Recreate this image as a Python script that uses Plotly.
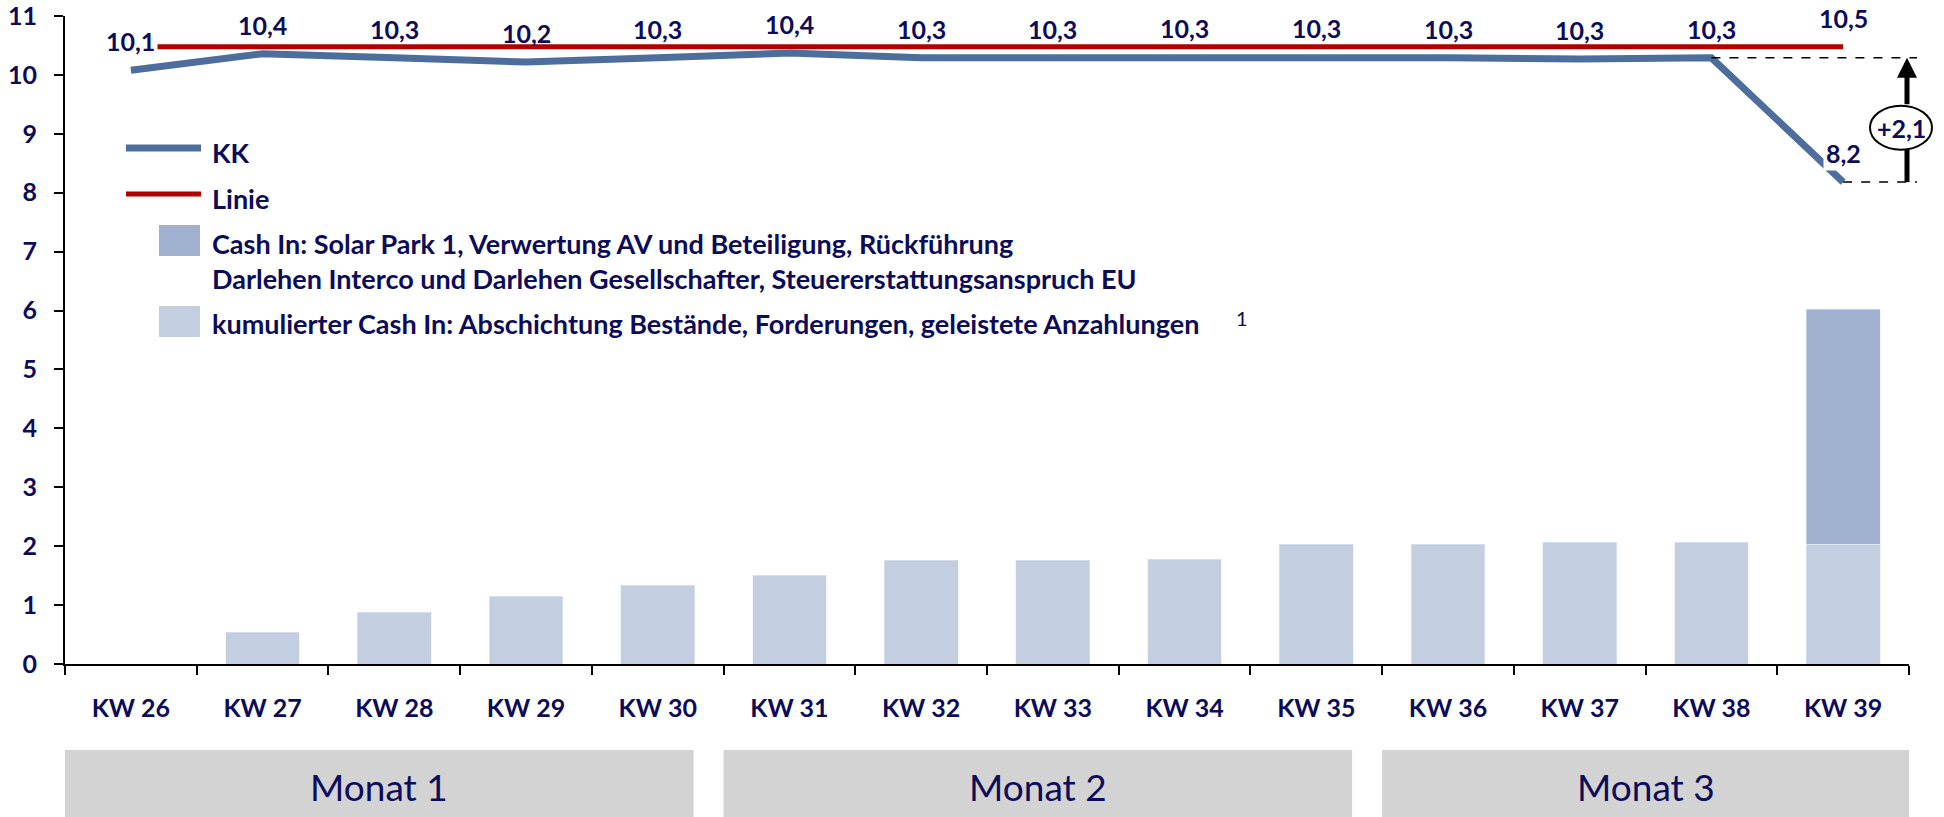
import plotly.graph_objects as go

# ---------------- data ----------------
categories = ["KW 26", "KW 27", "KW 28", "KW 29", "KW 30", "KW 31", "KW 32",
              "KW 33", "KW 34", "KW 35", "KW 36", "KW 37", "KW 38", "KW 39"]
kk = [10.08, 10.36, 10.29, 10.22, 10.29, 10.37, 10.29,
      10.29, 10.31, 10.31, 10.29, 10.27, 10.29, 8.18]
linie = [10.48, 10.48, 10.48, 10.48, 10.48, 10.48, 10.48,
         10.48, 10.48, 10.48, 10.48, 10.48, 10.48, 10.48]
cash_kum = [0.0, 0.54, 0.88, 1.15, 1.34, 1.51, 1.76,
            1.76, 1.78, 2.03, 2.03, 2.07, 2.07, 2.03]
cash_sonder = [None, None, None, None, None, None, None,
               None, None, None, None, None, None, 3.99]
months = ["Monat 1", "Monat 2", "Monat 3"]
month_weeks = [5, 5, 4]
series_names = ["KK", "Linie",
                "Cash In: Solar Park 1, Verwertung AV und Beteiligung, Rückführung<br>"
                "Darlehen Interco und Darlehen Gesellschafter, Steuererstattungsanspruch EU",
                "kumulierter Cash In: Abschichtung Bestände, Forderungen, geleistete Anzahlungen"]
footnote = "1"

# ---------------- style ----------------
NAVY = "#0c0c5a"
KK_COL = "#4d6e9c"
RED = "#b00000"
DARK_BAR = "#9fb1ce"
LIGHT_BAR = "#c3cfe1"
BOX = "#d3d3d3"
FONT = "Lato"
FS = 25

W, H = 1944, 817
L, R, T, B = 65, 1909, 16, 664


def px_x(px):
    """screen pixel -> paper x"""
    return (px - L) / (R - L)


def px_y(py):
    """screen pixel -> paper y"""
    return (B - py) / (B - T)


fig = go.Figure()
fig.add_bar(x=categories, y=cash_kum, marker_color=LIGHT_BAR, width=0.56,
            name=series_names[3], showlegend=False)
fig.add_bar(x=categories, y=cash_sonder, marker_color=DARK_BAR, width=0.56,
            name=series_names[2], showlegend=False)
fig.add_scatter(x=categories, y=linie, mode="lines", line=dict(color=RED, width=5),
                name=series_names[1], showlegend=False)
fig.add_scatter(x=categories, y=kk, mode="lines", line=dict(color=KK_COL, width=7),
                name=series_names[0], showlegend=False)

bold = dict(family=FONT, size=FS, color=NAVY, weight="bold")
bold_leg = dict(family=FONT, size=27, color=NAVY, weight="bold")
ann = []
n = len(categories)
for i, (c, v) in enumerate(zip(categories, kk)):
    txt = f"{v:.1f}".replace(".", ",")
    a = dict(x=c, y=v, xref="x", yref="y", text=txt, showarrow=False,
             yshift=29, font=bold, xanchor="center", yanchor="middle")
    if i == 0 or i == n - 1:
        a.update(bgcolor="white", borderpad=2)
    ann.append(a)
ann.append(dict(x=categories[-1], y=linie[-1], xref="x", yref="y",
                text=f"{linie[-1]:.1f}".replace(".", ","), showarrow=False,
                yshift=29, font=bold, xanchor="center", yanchor="middle"))

shapes = []
# dashed guide lines for difference
x_arrow = px_x(1907)
x_dash_end = px_x(1917)
shapes.append(dict(type="line", xref="paper", yref="y", x0=(n - 2 + 0.5) / n, x1=x_dash_end,
                   y0=kk[-2], y1=kk[-2], line=dict(color="black", width=1.5, dash="dash")))
shapes.append(dict(type="line", xref="paper", yref="y", x0=(n - 1 + 0.5) / n, x1=x_dash_end,
                   y0=kk[-1], y1=kk[-1], line=dict(color="black", width=1.5, dash="dash")))
diff = kk[-2] - kk[-1]
ell_c = (kk[-2] + kk[-1]) / 2 - 0.13
ell_h = 22 / 58.9
shapes.append(dict(type="line", xref="paper", yref="y", x0=x_arrow, x1=x_arrow,
                   y0=kk[-1], y1=ell_c, line=dict(color="black", width=5)))
shapes.append(dict(type="circle", xref="paper", yref="y", x0=px_x(1870), x1=px_x(1932),
                   y0=ell_c - ell_h, y1=ell_c + ell_h, fillcolor="white",
                   line=dict(color="black", width=2)))
ann.append(dict(x=x_arrow, y=kk[-2], xref="paper", yref="y", ax=0, ay=ell_c + ell_h,
                ayref="y", text="", showarrow=True, arrowhead=2, arrowsize=0.8,
                arrowwidth=5, arrowcolor="black"))
ann.append(dict(x=(px_x(1870) + px_x(1932)) / 2, y=ell_c, xref="paper", yref="y",
                text=("+" + f"{diff:.1f}").replace(".", ","), showarrow=False, font=bold,
                xanchor="center", yanchor="middle"))

# month boxes
start = 0
for k, (m, cnt) in enumerate(zip(months, month_weeks)):
    x0 = start - 0.5
    x1 = start + cnt - 0.5 - (0.228 if k < len(months) - 1 else 0)
    shapes.append(dict(type="rect", xref="x", yref="paper", x0=x0, x1=x1,
                       y0=px_y(750), y1=px_y(830), fillcolor=BOX, line=dict(width=0),
                       layer="below"))
    ann.append(dict(x=(x0 + x1) / 2, y=px_y(786), xref="x", yref="paper", text=m,
                    showarrow=False, xanchor="center", yanchor="middle",
                    font=dict(family=FONT, size=37, color=NAVY)))
    start += cnt

# manual legend
shapes.append(dict(type="line", xref="paper", yref="paper", x0=px_x(126), x1=px_x(201),
                   y0=px_y(148), y1=px_y(148), line=dict(color=KK_COL, width=7)))
shapes.append(dict(type="line", xref="paper", yref="paper", x0=px_x(126), x1=px_x(201),
                   y0=px_y(194), y1=px_y(194), line=dict(color=RED, width=5)))
shapes.append(dict(type="rect", xref="paper", yref="paper", x0=px_x(159), x1=px_x(200),
                   y0=px_y(256), y1=px_y(225), fillcolor=DARK_BAR, line=dict(width=0)))
shapes.append(dict(type="rect", xref="paper", yref="paper", x0=px_x(159), x1=px_x(200),
                   y0=px_y(337), y1=px_y(306), fillcolor=LIGHT_BAR, line=dict(width=0)))
for name, yc in zip(series_names, [152, 198, 260.5, 323]):
    ann.append(dict(x=px_x(210), y=px_y(yc), xref="paper", yref="paper", text=name,
                    showarrow=False, xanchor="left", yanchor="middle", align="left",
                    font=bold_leg))
ann.append(dict(x=px_x(1242), y=px_y(318), xref="paper", yref="paper", text=footnote,
                showarrow=False, xanchor="center", yanchor="middle",
                font=dict(family=FONT, size=20, color=NAVY)))

fig.update_layout(
    width=W, height=H, barmode="stack", plot_bgcolor="white", paper_bgcolor="white",
    margin=dict(l=L, r=W - R, t=T, b=H - B, autoexpand=False), showlegend=False,
    annotations=ann, shapes=shapes,
)
fig.update_xaxes(type="category", range=[-0.5, n - 0.5], showline=True, linecolor="black",
                 linewidth=2, ticks="outside", tickson="boundaries", ticklen=9,
                 tickwidth=2, tickcolor="black", tickfont=bold, showgrid=False,
                 ticklabelstandoff=21, ticklabeloverflow="allow")
fig.update_yaxes(range=[0, 11], dtick=1, showline=True, linecolor="black", linewidth=2,
                 ticks="outside", ticklen=9, tickwidth=2, tickcolor="black",
                 tickfont=bold, showgrid=False, zeroline=False, ticklabelstandoff=12,
                 ticklabeloverflow="allow")

fig.write_html("out.html", config={"displayModeBar": False},
               post_script="document.body.style.margin='0';document.body.style.overflow='hidden';")
